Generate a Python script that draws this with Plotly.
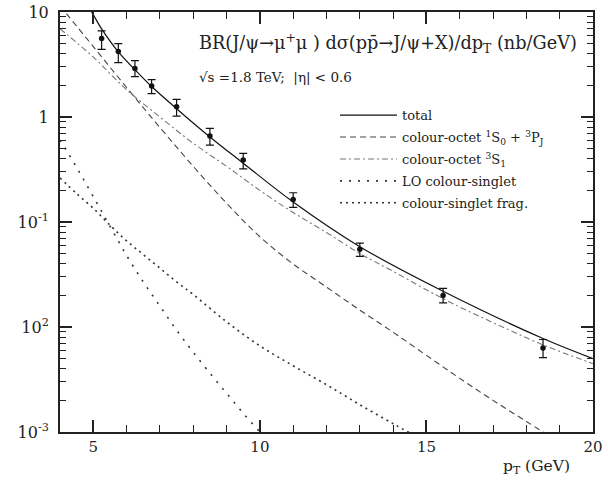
import plotly.graph_objects as go

# ---- data ----
pt_data = [5.25, 5.75, 6.25, 6.75, 7.5, 8.5, 9.5, 11.0, 13.0, 15.5, 18.5]
y_data = [5.6, 4.2, 2.9, 1.97, 1.25, 0.66, 0.39, 0.164, 0.055, 0.020, 0.0063]
err_up = [1.0, 0.8, 0.55, 0.3, 0.22, 0.12, 0.06, 0.026, 0.008, 0.0033, 0.0013]
err_dn = [1.2, 0.9, 0.48, 0.3, 0.23, 0.12, 0.07, 0.026, 0.008, 0.0030, 0.0012]

x_total = [4.8, 4.95, 5.25, 5.75, 6.25, 6.75, 7.5, 8.5, 9.5, 11.0, 13.0, 15.5, 18.5, 20.0]
y_total = [11.7, 10.0, 6.9, 4.17, 2.82, 1.95, 1.20, 0.646, 0.363, 0.155, 0.0582, 0.0219, 0.00776, 0.0050]

x_oct1 = [4.0, 5.0, 6.0, 7.0, 8.0, 9.0, 10.0, 11.0, 12.0, 13.0, 14.0, 15.0, 16.0, 17.0, 18.0, 18.6]
y_oct1 = [11.5, 4.68, 1.91, 0.794, 0.339, 0.151, 0.0724, 0.0398, 0.024, 0.0145, 0.00891,
          0.00537, 0.00324, 0.0020, 0.00126, 0.000955]

x_oct3 = [4.0, 5.0, 6.0, 7.0, 8.0, 9.0, 10.0, 11.0, 12.0, 13.0, 14.0, 15.5, 17.0, 18.5, 20.0]
y_oct3 = [6.92, 3.72, 1.82, 1.0, 0.562, 0.339, 0.200, 0.123, 0.0794, 0.0501, 0.0339, 0.0186,
          0.011, 0.00676, 0.00447]

x_lo = [4.0, 4.5, 5.0, 5.5, 6.0, 6.5, 7.0, 7.5, 8.0, 8.5, 9.0, 9.5, 10.0, 10.2]
y_lo = [0.603, 0.331, 0.174, 0.0912, 0.0479, 0.0269, 0.0158, 0.00933, 0.00575, 0.00363,
        0.00234, 0.00151, 0.0010, 0.00085]

x_frag = [4.0, 4.5, 5.0, 5.5, 6.0, 6.5, 7.0, 7.5, 8.0, 9.0, 10.0, 11.0, 12.0, 13.0, 14.0, 14.5]
y_frag = [0.263, 0.186, 0.135, 0.0933, 0.0661, 0.049, 0.0363, 0.0269, 0.0204, 0.0112,
          0.00661, 0.00427, 0.00282, 0.00182, 0.0012, 0.00098]

y_tickvals = [0.001, 0.01, 0.1, 1, 10]
y_ticktext = ["10<sup>-3</sup>", "10<sup>2</sup>", "10<sup>-1</sup>", "1", "10"]
x_tickvals = [5, 10, 15, 20]

FONT = "DejaVu Serif"

fig = go.Figure()

fig.add_trace(go.Scatter(x=x_total, y=y_total, mode="lines", name="total", legendgroup="a",
                         line=dict(color="#111", width=1.2, shape="spline")))
fig.add_trace(go.Scatter(x=x_oct1, y=y_oct1, mode="lines", legendgroup="b",
                         name="colour-octet <sup>1</sup>S<sub>0</sub> + <sup>3</sup>P<sub>J</sub>",
                         line=dict(color="#444", width=1.1, dash="6px,4px", shape="spline")))
fig.add_trace(go.Scatter(x=x_oct3, y=y_oct3, mode="lines", legendgroup="c",
                         name="colour-octet <sup>3</sup>S<sub>1</sub>",
                         line=dict(color="#777", width=1.1, dash="6px,3px,2px,3px", shape="spline")))
fig.add_trace(go.Scatter(x=x_lo, y=y_lo, mode="lines", name="LO colour-singlet", legendgroup="d",
                         line=dict(color="#333", width=1.6, dash="2px,7px", shape="spline")))
fig.add_trace(go.Scatter(x=x_frag, y=y_frag, mode="lines", name="colour-singlet frag.",
                         legendgroup="e",
                         line=dict(color="#333", width=1.6, dash="2px,4px", shape="spline")))
fig.add_trace(go.Scatter(x=pt_data, y=y_data, mode="markers", showlegend=False,
                         marker=dict(color="#111", size=5.5),
                         error_y=dict(type="data", array=err_up, arrayminus=err_dn,
                                      color="#111", thickness=1.2, width=4)))

minor_y = [m * 10 ** e for e in range(-3, 1) for m in range(2, 10)]

fig.update_xaxes(range=[4, 20], tickvals=x_tickvals, ticks="inside", ticklen=12,
                 tickwidth=1.5, tickcolor="#222", showline=True, linecolor="#222",
                 linewidth=2, mirror="ticks", showgrid=False, zeroline=False,
                 automargin=False, ticklabeloverflow="allow",
                 tickfont=dict(family=FONT, size=15, color="#222"),
                 minor=dict(dtick=1, ticks="inside", ticklen=7, tickwidth=1.2,
                            tickcolor="#222", showgrid=False))
fig.update_yaxes(type="log", range=[-3, 1], tickvals=y_tickvals, ticktext=y_ticktext,
                 ticks="inside", ticklen=12, tickwidth=1.5, tickcolor="#222",
                 showline=True, linecolor="#222", linewidth=2, mirror="ticks",
                 showgrid=False, zeroline=False, ticklabelstandoff=6, automargin=False,
                 ticklabeloverflow="allow",
                 tickfont=dict(family=FONT, size=16, color="#222"),
                 minor=dict(tickvals=minor_y, ticks="inside", ticklen=6, tickwidth=1.2,
                            tickcolor="#222", showgrid=False))

fig.add_annotation(xref="paper", yref="paper", x=0.257, y=0.925, xanchor="left",
                   yanchor="middle", showarrow=False,
                   text="BR(J/ψ→μ<sup>+</sup>μ ) dσ(pp\u0304→J/ψ+X)/dp<sub>T</sub> (nb/GeV)",
                   font=dict(family=FONT, size=17.7, color="#222"))
fig.add_annotation(xref="paper", yref="paper", x=0.257, y=0.845, xanchor="left",
                   yanchor="middle", showarrow=False,
                   text="√s =1.8 TeV;  |η| < 0.6",
                   font=dict(family=FONT, size=13.5, color="#222"))
fig.add_annotation(xref="paper", yref="paper", x=0.96, y=-0.083, xanchor="right",
                   yanchor="middle", showarrow=False,
                   text="p<sub>T</sub> (GeV)",
                   font=dict(family=FONT, size=15.5, color="#222"))

fig.update_layout(
    width=608, height=486,
    margin=dict(l=60, r=15, t=12, b=54),
    paper_bgcolor="white", plot_bgcolor="white",
    showlegend=True,
    legend=dict(x=0.516, y=0.79, xanchor="left", yanchor="top",
                bgcolor="rgba(0,0,0,0)", borderwidth=0,
                font=dict(family=FONT, size=13, color="#222"),
                tracegroupgap=2, itemwidth=57),
)

# remove the page's default 8px body margin so the figure fills the window exactly
fig.write_html("out.html", config={"displayModeBar": False},
               post_script="document.body.style.margin='0px';document.body.style.overflow='hidden';")
